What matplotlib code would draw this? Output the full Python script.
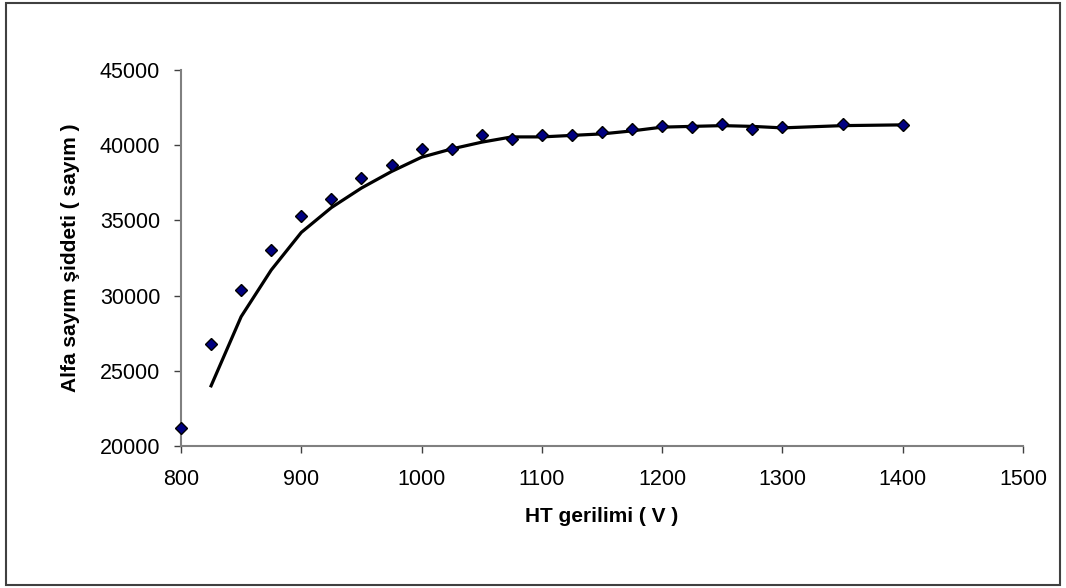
import matplotlib.pyplot as plt
from matplotlib.patches import Rectangle

# measured points (HT voltage vs alpha counts)
voltage = [800, 825, 850, 875, 900, 925, 950, 975, 1000, 1025, 1050, 1075,
           1100, 1125, 1150, 1175, 1200, 1225, 1250, 1275, 1300, 1350, 1400]
counts = [21200, 26800, 30350, 33050, 35300, 36400, 37850, 38650, 39750, 39750, 40650, 40430,
          40650, 40650, 40850, 41100, 41300, 41200, 41420, 41100, 41200, 41420, 41320]

# trend line as drawn in the chart
trend_x = [825, 850, 875, 900, 925, 950, 975, 1000, 1025, 1050, 1075,
           1100, 1125, 1150, 1175, 1200, 1225, 1250, 1275, 1300, 1350, 1400]
trend_y = [24000, 28600, 31700, 34200, 35850, 37150, 38250, 39200, 39750, 40200, 40550,
           40550, 40650, 40750, 40950, 41200, 41250, 41300, 41250, 41150, 41300, 41350]

x_ticks = [800, 900, 1000, 1100, 1200, 1300, 1400, 1500]
y_ticks = [20000, 25000, 30000, 35000, 40000, 45000]

plt.rcParams["font.family"] = ["Liberation Sans", "DejaVu Sans"]

fig = plt.figure(figsize=(10.66, 5.88), dpi=100)
ax = fig.add_axes([0.1698, 0.2415, 0.7899, 0.6395])

ax.plot(trend_x, trend_y, color='black', lw=2.3, zorder=2)
ax.plot(voltage, counts, linestyle='none', marker='D', markersize=6.2,
        markerfacecolor='#000080', markeredgecolor='black', markeredgewidth=1.0,
        zorder=3, clip_on=False)

ax.set_xlim(800, 1500)
ax.set_ylim(20000, 45000)
ax.set_xticks(x_ticks)
ax.set_yticks(y_ticks)
ax.tick_params(axis='both', labelsize=15.5, direction='out', length=5,
               width=1.0, color='#404040')
ax.tick_params(axis='x', pad=11.5)
ax.tick_params(axis='y', pad=10)

for side in ['top', 'right']:
    ax.spines[side].set_visible(False)
for side in ['left', 'bottom']:
    ax.spines[side].set_color('#808080')
    ax.spines[side].set_linewidth(1.5)

ax.set_xlabel('HT gerilimi ( V )', fontsize=15, fontweight='bold', labelpad=12.5)
ax.set_ylabel('Alfa sayım şiddeti ( sayım )', fontsize=15, fontweight='bold', labelpad=14)

# outer chart border
fig.patches.append(Rectangle((6 / 1066, 3 / 588), 1054 / 1066, 582 / 588,
                             transform=fig.transFigure, fill=False,
                             edgecolor='#404040', lw=1.5))

fig.savefig('out.png', dpi=100)
